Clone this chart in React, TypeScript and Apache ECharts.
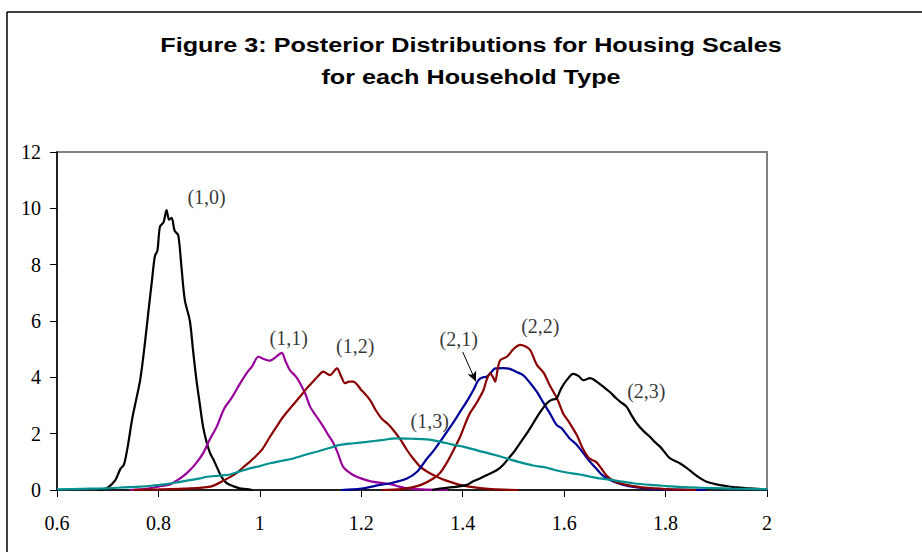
import React, { useEffect, useRef } from "react";
import * as echarts from "echarts";

const titleLines = ["Figure 3: Posterior Distributions for Housing Scales", "for each Household Type"];

const xTicks = { min: 0.6, max: 2, interval: 0.2 };
const yTicks = { min: 0, max: 12, interval: 2 };

const curve10: [number, number][] = [
  [0.68, 0], [0.69, 0.02], [0.7, 0.08], [0.715, 0.35], [0.725, 0.75], [0.732, 0.9], [0.74, 1.6],
  [0.748, 2.5], [0.756, 3.2], [0.764, 3.9], [0.772, 5.0], [0.78, 6.3], [0.787, 7.4], [0.793, 8.3],
  [0.798, 8.5], [0.803, 9.35], [0.81, 9.5], [0.816, 9.94], [0.821, 9.6], [0.826, 9.66], [0.832, 9.2],
  [0.839, 9.05], [0.845, 8.0], [0.852, 6.75], [0.862, 6.0], [0.868, 5.0], [0.875, 3.9], [0.882, 3.0],
  [0.888, 2.25], [0.895, 1.7], [0.902, 1.3], [0.908, 1.1], [0.915, 0.82], [0.925, 0.45], [0.935, 0.24],
  [0.95, 0.12], [0.96, 0.06], [0.974, 0.03], [0.985, 0],
];

const curve11: [number, number][] = [
  [0.744, 0], [0.78, 0.05], [0.8, 0.12], [0.823, 0.2], [0.84, 0.38], [0.856, 0.6], [0.872, 0.9],
  [0.888, 1.3], [0.9, 1.75], [0.915, 2.25], [0.93, 2.9], [0.944, 3.26], [0.96, 3.75], [0.974, 4.15],
  [0.985, 4.4], [0.997, 4.73], [1.008, 4.65], [1.02, 4.59], [1.03, 4.7], [1.043, 4.87], [1.05, 4.6],
  [1.059, 4.26], [1.07, 4.05], [1.079, 3.8], [1.09, 3.4], [1.099, 2.96], [1.112, 2.6], [1.125, 2.25],
  [1.135, 1.95], [1.145, 1.67], [1.155, 1.25], [1.164, 0.83], [1.178, 0.6], [1.191, 0.47], [1.21, 0.35],
  [1.224, 0.29], [1.24, 0.25], [1.257, 0.21], [1.275, 0.12], [1.29, 0.06], [1.32, 0.02], [1.37, 0],
];

const curve12: [number, number][] = [
  [0.75, 0], [0.8, 0.02], [0.85, 0.05], [0.902, 0.12], [0.93, 0.35], [0.954, 0.6], [0.967, 0.8],
  [0.98, 1.0], [0.992, 1.2], [1.005, 1.45], [1.02, 1.89], [1.033, 2.25], [1.046, 2.6], [1.062, 2.95],
  [1.079, 3.31], [1.092, 3.6], [1.105, 3.85], [1.115, 4.05], [1.125, 4.2], [1.138, 4.08], [1.152, 4.32],
  [1.16, 4.05], [1.168, 3.79], [1.176, 3.85], [1.184, 3.85], [1.2, 3.55], [1.217, 3.2], [1.228, 2.85],
  [1.24, 2.54], [1.252, 2.35], [1.263, 2.13], [1.277, 1.8], [1.29, 1.42], [1.303, 1.1], [1.316, 0.83],
  [1.33, 0.65], [1.342, 0.53], [1.36, 0.38], [1.375, 0.29], [1.395, 0.18], [1.42, 0.1], [1.45, 0.04],
  [1.48, 0.01], [1.51, 0],
];

const curve13: [number, number][] = [
  [0.6, 0.02], [0.65, 0.04], [0.698, 0.06], [0.73, 0.09], [0.764, 0.12], [0.79, 0.16], [0.816, 0.21],
  [0.84, 0.28], [0.862, 0.35], [0.882, 0.41], [0.895, 0.47], [0.92, 0.51], [0.941, 0.55], [0.96, 0.66],
  [0.98, 0.77], [1.0, 0.85], [1.02, 0.95], [1.045, 1.04], [1.066, 1.12], [1.09, 1.25], [1.112, 1.36],
  [1.135, 1.48], [1.158, 1.6], [1.185, 1.66], [1.211, 1.71], [1.24, 1.77], [1.27, 1.83], [1.3, 1.82],
  [1.329, 1.8], [1.355, 1.72], [1.382, 1.6], [1.401, 1.54], [1.43, 1.4], [1.46, 1.26], [1.487, 1.12],
  [1.51, 1.0], [1.539, 0.87], [1.566, 0.79], [1.58, 0.72], [1.605, 0.62], [1.631, 0.55], [1.65, 0.48],
  [1.671, 0.41], [1.69, 0.37], [1.71, 0.31], [1.736, 0.24], [1.77, 0.18], [1.802, 0.14], [1.835, 0.1],
  [1.868, 0.08], [1.93, 0.05], [2.0, 0.03],
];

const curve21: [number, number][] = [
  [1.16, 0], [1.2, 0.05], [1.237, 0.18], [1.26, 0.25], [1.29, 0.41], [1.31, 0.65], [1.329, 1.1],
  [1.345, 1.45], [1.362, 1.89], [1.378, 2.3], [1.395, 2.78], [1.41, 3.2], [1.421, 3.55], [1.431, 3.9],
  [1.44, 4.0], [1.447, 4.02], [1.455, 4.15], [1.464, 4.32], [1.48, 4.33], [1.493, 4.3], [1.505, 4.2],
  [1.519, 4.08], [1.533, 3.8], [1.546, 3.49], [1.559, 3.1], [1.572, 2.72], [1.585, 2.31], [1.595, 2.19],
  [1.61, 1.85], [1.625, 1.6], [1.638, 1.3], [1.651, 1.0], [1.664, 0.75], [1.677, 0.5], [1.697, 0.3],
  [1.717, 0.18], [1.74, 0.1], [1.769, 0.04], [1.82, 0.01], [1.88, 0],
];

const curve22: [number, number][] = [
  [1.24, 0], [1.28, 0.03], [1.302, 0.1], [1.32, 0.2], [1.342, 0.41], [1.355, 0.6], [1.368, 0.95],
  [1.38, 1.35], [1.395, 1.89], [1.405, 2.35], [1.414, 2.72], [1.427, 3.08], [1.441, 3.55], [1.447, 3.9],
  [1.454, 4.14], [1.46, 4.0], [1.464, 3.85], [1.469, 4.3], [1.474, 4.61], [1.487, 4.73], [1.5, 5.0],
  [1.513, 5.15], [1.523, 5.1], [1.533, 4.97], [1.546, 4.45], [1.56, 4.15], [1.572, 3.7], [1.586, 3.25],
  [1.598, 2.72], [1.61, 2.4], [1.625, 1.95], [1.636, 1.5], [1.648, 1.15], [1.657, 1.05], [1.664, 0.98],
  [1.674, 0.75], [1.684, 0.5], [1.7, 0.3], [1.723, 0.18], [1.75, 0.1], [1.776, 0.06], [1.81, 0.02],
  [1.86, 0],
];

const curve23: [number, number][] = [
  [1.34, 0], [1.355, 0.05], [1.38, 0.1], [1.408, 0.18], [1.42, 0.3], [1.434, 0.41], [1.45, 0.55],
  [1.467, 0.7], [1.48, 0.9], [1.493, 1.18], [1.503, 1.4], [1.513, 1.66], [1.526, 2.0], [1.539, 2.37],
  [1.552, 2.75], [1.566, 3.08], [1.575, 3.2], [1.585, 3.25], [1.594, 3.6], [1.605, 3.9], [1.618, 4.12],
  [1.628, 4.05], [1.638, 3.9], [1.651, 3.97], [1.664, 3.85], [1.677, 3.67], [1.69, 3.48], [1.703, 3.25],
  [1.713, 3.1], [1.723, 2.96], [1.733, 2.65], [1.743, 2.37], [1.756, 2.1], [1.769, 1.89], [1.779, 1.7],
  [1.789, 1.54], [1.8, 1.3], [1.809, 1.12], [1.828, 0.95], [1.842, 0.78], [1.855, 0.59], [1.868, 0.42],
  [1.881, 0.29], [1.9, 0.2], [1.92, 0.14], [1.94, 0.09], [1.966, 0.06], [2.0, 0.02],
];

const labelNames = ["(1,0)", "(1,1)", "(1,2)", "(1,3)", "(2,1)", "(2,2)", "(2,3)"];
const labelX = [0.895, 1.057, 1.188, 1.335, 1.392, 1.553, 1.762];
const labelY = [10.4, 5.4, 5.12, 2.45, 5.35, 5.82, 3.5];
const arrowFrom: [number, number] = [1.4, 4.9];
const arrowTo: [number, number] = [1.426, 3.85];

const seriesDefs = [
  { name: "(1,0)", data: curve10, color: "#000000" },
  { name: "(1,1)", data: curve11, color: "#990099" },
  { name: "(1,2)", data: curve12, color: "#8B0000" },
  { name: "(2,1)", data: curve21, color: "#000099" },
  { name: "(2,2)", data: curve22, color: "#8B0000" },
  { name: "(2,3)", data: curve23, color: "#000000" },
  { name: "(1,3)", data: curve13, color: "#009090" },
];

export default function App() {
  const ref = useRef<HTMLDivElement>(null);
  useEffect(() => {
    if (!ref.current) return;
    const chart = echarts.init(ref.current, null, { renderer: "svg" });
    const serif = "'Liberation Serif', 'Times New Roman', serif";
    const sans = "'Liberation Sans', Arial, sans-serif";
    chart.setOption({
      animation: false,
      backgroundColor: "#ffffff",
      graphic: [
        { type: "line", shape: { x1: 7, y1: 12, x2: 922, y2: 12 }, style: { stroke: "#000", lineWidth: 1.5 } },
        { type: "line", shape: { x1: 7, y1: 12, x2: 7, y2: 552 }, style: { stroke: "#000", lineWidth: 1.5 } },
        ...titleLines.map((t, i) => ({
          type: "text",
          x: 471,
          y: 45 + i * 32,
          scaleX: 1.2,
          style: {
            text: t,
            fill: "#000",
            font: `bold 21px ${sans}`,
            textAlign: "center",
            textVerticalAlign: "middle",
          },
        })),
      ],
      grid: {
        left: 57,
        right: 155,
        top: 152,
        bottom: 62,
        show: true,
        borderColor: "#808080",
        borderWidth: 2,
        backgroundColor: "transparent",
      },
      xAxis: {
        type: "value",
        min: xTicks.min,
        max: xTicks.max,
        interval: xTicks.interval,
        splitLine: { show: false },
        axisLine: { show: true, onZero: false, lineStyle: { color: "#000", width: 1.5 } },
        axisTick: { show: true, inside: false, length: 7, lineStyle: { color: "#000" } },
        axisLabel: {
          fontFamily: serif,
          fontSize: 20,
          color: "#000",
          margin: 23,
          formatter: (v: number) => String(Math.round(v * 10) / 10),
        },
      },
      yAxis: {
        type: "value",
        min: yTicks.min,
        max: yTicks.max,
        interval: yTicks.interval,
        splitLine: { show: false },
        axisLine: { show: true, lineStyle: { color: "#000", width: 1.5 } },
        axisTick: { show: true, inside: false, length: 7, lineStyle: { color: "#000" } },
        axisLabel: { fontFamily: serif, fontSize: 20, color: "#000", margin: 16 },
      },
      series: [
        ...seriesDefs.map((s) => ({
          type: "line",
          name: s.name,
          data: s.data,
          showSymbol: false,
          smooth: 0.3,
          lineStyle: { color: s.color, width: 2.2 },
          itemStyle: { color: s.color },
          z: 2,
        })),
        {
          type: "scatter",
          name: "labels",
          symbolSize: 0,
          z: 5,
          data: labelNames.map((n, i) => ({ name: n, value: [labelX[i], labelY[i]] })),
          label: {
            show: true,
            position: "inside",
            formatter: (p: any) => p.name,
            fontFamily: serif,
            fontSize: 20,
            color: "#000",
          },
          markLine: {
            silent: true,
            symbol: ["none", "arrow"],
            symbolSize: [7, 10],
            label: { show: false },
            lineStyle: { color: "#000", width: 1, type: "solid" },
            data: [[{ coord: arrowFrom }, { coord: arrowTo }]],
          },
        },
      ],
    });
    return () => chart.dispose();
  }, []);
  return <div ref={ref} style={{ position: "absolute", left: 0, top: 0, width: 922, height: 552 }} />;
}
